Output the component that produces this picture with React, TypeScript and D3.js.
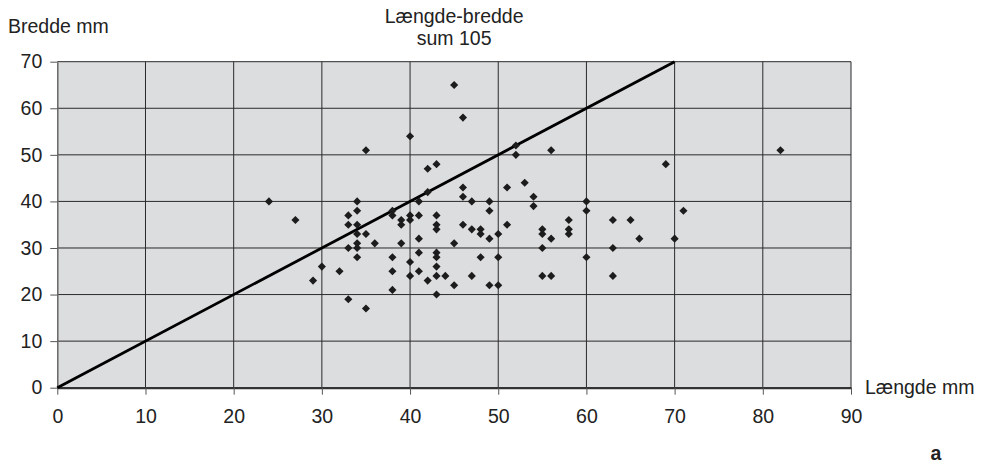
import {useEffect, useRef} from 'react';
import * as d3 from 'd3';

// Længde (x, mm) and bredde (y, mm)
const lengths = [
  24, 27, 29, 30, 32, 33, 33, 33, 33, 34, 34, 34, 34, 34, 34, 34, 35, 35, 35, 36,
  38, 38, 38, 38, 38, 39, 39, 39, 40, 40, 40, 40, 40, 41, 41, 41, 41, 41, 42, 42,
  42, 43, 43, 43, 43, 43, 43, 43, 43, 43, 44, 45, 45, 45, 46, 46, 46, 46, 47, 47,
  47, 48, 48, 48, 49, 49, 49, 49, 50, 50, 50, 51, 51, 52, 52, 53, 54, 54, 55, 55,
  55, 55, 56, 56, 56, 58, 58, 58, 60, 60, 60, 63, 63, 63, 65, 66, 69, 70, 71, 82,
];
const widths = [
  40, 36, 23, 26, 25, 19, 37, 35, 30, 40, 38, 35, 33, 31, 30, 28, 17, 33, 51, 31,
  38, 37, 28, 25, 21, 36, 35, 31, 54, 37, 36, 27, 24, 40, 37, 32, 29, 25, 47, 42,
  23, 48, 37, 35, 34, 29, 28, 26, 24, 20, 24, 65, 31, 22, 58, 43, 41, 35, 40, 34,
  24, 34, 33, 28, 40, 38, 32, 22, 33, 28, 22, 43, 35, 52, 50, 44, 41, 39, 34, 33,
  30, 24, 51, 32, 24, 36, 34, 33, 40, 38, 28, 36, 30, 24, 36, 32, 48, 32, 38, 51,
];
// the line where length + width would meet the diagonal (x = y)
const lineX = [0, 70];
const lineY = [0, 70];

const xTicks = [0, 10, 20, 30, 40, 50, 60, 70, 80, 90];
const yTicks = [0, 10, 20, 30, 40, 50, 60, 70];

const titleLines = ['Længde-bredde', 'sum 105'];
const yTitle = 'Bredde mm';
const xTitle = 'Længde mm';
const cornerLabel = 'a';

const width = 986;
const height = 465;
const font = '"Liberation Sans", Arial, Helvetica, sans-serif';

export default function App() {
  const svgRef = useRef<SVGSVGElement>(null);

  useEffect(() => {
    const svg = d3.select(svgRef.current);
    svg.selectAll('*').remove();

    const left = 57.3;
    const right = 851;
    const top = 61.7;
    const bottom = 387.7;

    const x = d3.scaleLinear().domain([0, 90]).range([left, right]);
    const y = d3.scaleLinear().domain([0, 70]).range([bottom, top]);

    // plot background
    svg.append('rect')
      .attr('x', left)
      .attr('y', top)
      .attr('width', right - left)
      .attr('height', bottom - top)
      .attr('fill', '#dcdddf');

    // grid
    svg.append('g')
      .selectAll('line')
      .data(xTicks.slice(1))
      .enter().append('line')
      .attr('x1', d => x(d))
      .attr('x2', d => x(d))
      .attr('y1', top)
      .attr('y2', bottom)
      .attr('stroke', '#2a2a2a')
      .attr('stroke-width', 1);

    svg.append('g')
      .selectAll('line')
      .data(yTicks.slice(1))
      .enter().append('line')
      .attr('x1', left)
      .attr('x2', right)
      .attr('y1', d => y(d))
      .attr('y2', d => y(d))
      .attr('stroke', '#2a2a2a')
      .attr('stroke-width', 1);

    // axes with outside ticks
    const yAxis = svg.append('g')
      .attr('transform', `translate(${left},0)`)
      .call(d3.axisLeft(y).tickValues(yTicks).tickSize(7).tickPadding(8).tickSizeOuter(0));
    yAxis.select('.domain').attr('stroke', '#666').attr('stroke-width', 1.5);
    yAxis.selectAll('.tick line').attr('stroke', '#555');
    yAxis.selectAll('text')
      .attr('fill', '#222')
      .style('font-family', font)
      .style('font-size', '19.5px');

    const xAxis = svg.append('g')
      .attr('transform', `translate(0,${bottom})`)
      .call(d3.axisBottom(x).tickValues(xTicks).tickSize(7).tickPadding(14).tickSizeOuter(0));
    xAxis.select('.domain').attr('stroke', '#333').attr('stroke-width', 2.2);
    xAxis.selectAll('.tick line').attr('stroke', '#555');
    xAxis.selectAll('text')
      .attr('fill', '#222')
      .style('font-family', font)
      .style('font-size', '19.5px');

    // diagonal line
    const line = d3.line<number>()
      .x(d => x(lineX[d]))
      .y(d => y(lineY[d]));
    svg.append('path')
      .datum([0, 1])
      .attr('d', line)
      .attr('fill', 'none')
      .attr('stroke', '#000')
      .attr('stroke-width', 2.8);

    // points
    const diamond = d3.symbol().type(d3.symbolDiamond2).size(42);
    svg.append('g')
      .selectAll('path')
      .data(lengths.map((l, i) => [l, widths[i]]))
      .enter().append('path')
      .attr('d', diamond)
      .attr('transform', d => `translate(${x(d[0])},${y(d[1])})`)
      .attr('fill', '#1c1c1c');

    // texts
    const text = (tx: number, ty: number, s: string, anchor = 'start', weight = 'normal') =>
      svg.append('text')
        .attr('x', tx)
        .attr('y', ty)
        .attr('text-anchor', anchor)
        .style('font-family', font)
        .style('font-size', '19.5px')
        .style('font-weight', weight)
        .attr('fill', '#222')
        .text(s);

    text(8, 33, yTitle);
    text((left + right) / 2, 23, titleLines[0], 'middle');
    text((left + right) / 2, 45, titleLines[1], 'middle');
    text(865, 394, xTitle);
    text(936, 460, cornerLabel, 'middle', 'bold');
  }, []);

  return (
    <svg
      ref={svgRef}
      width={width}
      height={height}
      style={{position: 'absolute', left: 0, top: 0, background: '#fff'}}
    />
  );
}
